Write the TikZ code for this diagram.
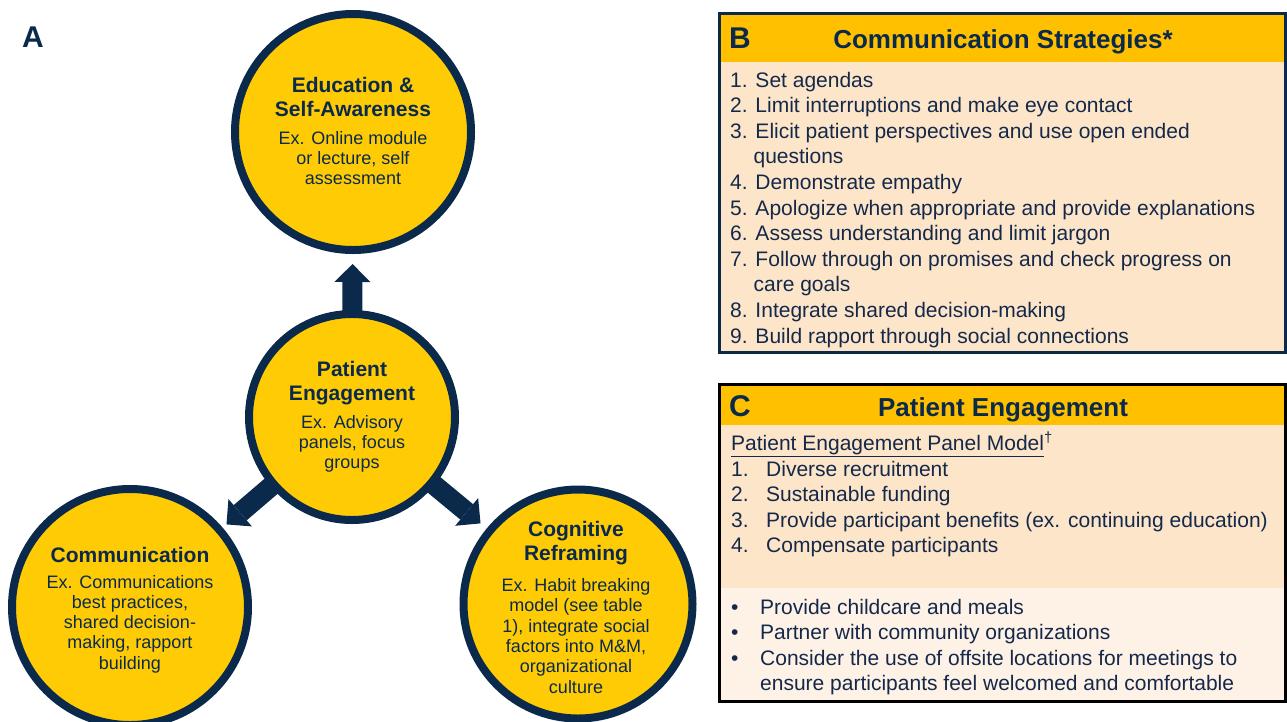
\documentclass[tikz,border=0pt]{standalone}
\usepackage{fontspec}
\setmainfont{Liberation Sans}
\usetikzlibrary{arrows.meta,calc}
\definecolor{navy}{HTML}{0B2A4B}
\definecolor{gold}{HTML}{FFCB05}
\definecolor{hdr}{HTML}{FFC000}
\definecolor{peach}{HTML}{FDE5CA}
\definecolor{cream}{HTML}{FEF1E6}
\definecolor{ink}{HTML}{14294A}
\begin{document}
\begin{tikzpicture}[x=1pt,y=-1pt,
  disc/.style={circle, draw=navy, line width=8pt, fill=gold, inner sep=0pt},
  ctitle/.style={align=center, inner sep=0pt, text=navy,
    font=\fontsize{21}{23.5}\selectfont\bfseries},
  cbody/.style={align=center, inner sep=0pt, text=navy,
    font=\fontsize{18}{20.3}\selectfont},
  blockarrow/.style={draw=navy, line width=20pt,
    -{Triangle[width=36pt,length=18pt,line width=0pt]}, shorten <=-3pt},
  panelletter/.style={anchor=base west, inner sep=0pt, text=navy,
    font=\fontsize{30}{32}\selectfont\bfseries},
  paneltitle/.style={anchor=base, inner sep=0pt, text=navy,
    font=\fontsize{26}{28}\selectfont\bfseries},
  item/.style={anchor=base west, inner sep=0pt, text=ink,
    font=\fontsize{21}{25}\selectfont}]
\useasboundingbox (0,0) rectangle (1287,721);

% ---------- A: the four circles ----------
\node[panelletter] (la) at (22,47) {A};

\node[disc, minimum size=236pt] (edu)  at (353,132) {};
\node[disc, minimum size=206pt] (pe)   at (352,417) {};
\node[disc, minimum size=236pt] (comm) at (130,607) {};
\node[disc, minimum size=229pt] (cog)  at (578,604) {};

\draw[blockarrow, shorten >=10pt] (pe) -- (edu);
\draw[blockarrow, shorten >=5pt]  (pe) -- (comm);
\draw[blockarrow, shorten >=8pt]  (pe) -- (cog);

\node[ctitle] (edut) at (353,97)  {Education \&\\Self-Awareness};
\node[cbody]  (edub) at (353,158) {Ex. Online module\\or lecture, self\\assessment};

\node[ctitle] (pet) at (352,383) {Patient\\Engagement};
\node[cbody]  (peb) at (352,444) {Ex. Advisory\\panels, focus\\groups};

\node[ctitle] (commt) at (130,555) {Communication};
\node[cbody]  (commb) at (130,624) {Ex. Communications\\best practices,\\shared decision-\\making, rapport\\building};

\node[ctitle] (cogt) at (576,543) {Cognitive\\Reframing};
\node[cbody]  (cogb) at (576,636) {Ex. Habit breaking\\model (see table\\1), integrate social\\factors into M\&M,\\organizational\\culture};

% ---------- B: communication strategies ----------
\fill[peach] (719,13) rectangle (1285,352);
\fill[hdr]   (719,13) rectangle (1285,62);
\draw[navy, line width=3pt] (719,13) rectangle (1285,352);
\node[panelletter] (lb) at (729,48) {B};
\node[paneltitle]  (tb) at (1003,48) {Communication Strategies*};

\foreach \txt [count=\i] in {
  1. Set agendas,
  2. Limit interruptions and make eye contact,
  3. Elicit patient perspectives and use open ended,
  \hspace*{23.4pt}questions,
  4. Demonstrate empathy,
  5. Apologize when appropriate and provide explanations,
  6. Assess understanding and limit jargon,
  7. Follow through on promises and check progress on,
  \hspace*{23.4pt}care goals,
  8. Integrate shared decision-making,
  9. Build rapport through social connections}
  \node[item] (b\i) at (730,{87+25.6*(\i-1)}) {\txt};

% ---------- C: patient engagement ----------
\fill[peach] (719,384) rectangle (1285,588);
\fill[cream] (719,588) rectangle (1285,701);
\fill[hdr]   (719,384) rectangle (1285,425);
\draw[black, line width=3pt] (719,384) rectangle (1285,701);
\node[panelletter] (lc) at (729,416) {C};
\node[paneltitle]  (tc) at (1003,416) {Patient Engagement};

\node[item] (ch) at (731,450) {\underline{Patient Engagement Panel Model}\textsuperscript{\dag}};
\foreach \txt [count=\i] in {
  Diverse recruitment,
  Sustainable funding,
  Provide participant benefits (ex. continuing education),
  Compensate participants}
  \node[item] (c\i) at (731,{476+25.6*(\i-1)}) {\makebox[35pt][l]{\i.}\txt};

\foreach \txt [count=\i] in {
  \makebox[29pt][l]{\textbullet}Provide childcare and meals,
  \makebox[29pt][l]{\textbullet}Partner with community organizations,
  \makebox[29pt][l]{\textbullet}Consider the use of offsite locations for meetings to,
  \hspace*{29pt}ensure participants feel welcomed and comfortable}
  \node[item] (d\i) at (731,{614+25.6*(\i-1)}) {\txt};
\end{tikzpicture}
\end{document}
